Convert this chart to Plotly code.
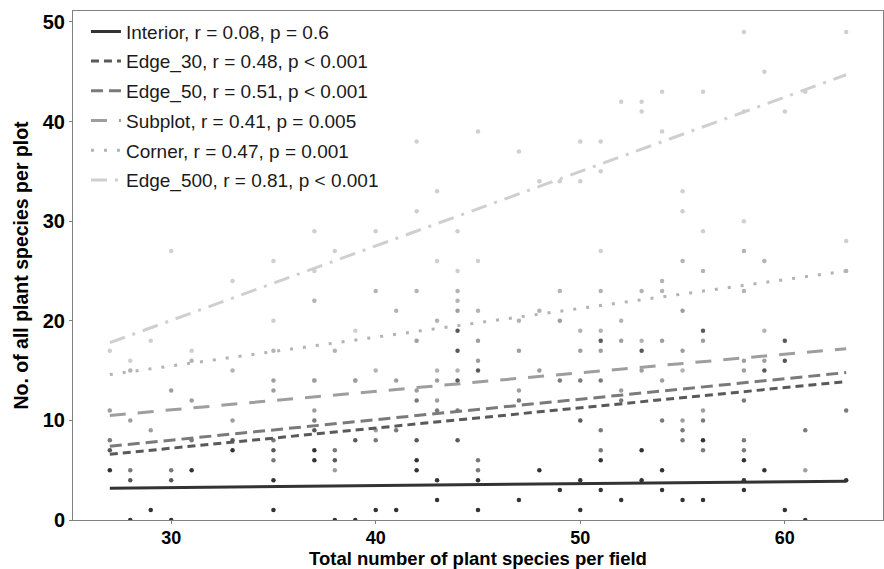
import plotly.graph_objects as go

# ---------------- data ----------------
interior_x = [27,28,29,30,31,33,35,35,37,37,38,39,40,41,42,42,43,43,45,45,47,48,49,50,50,51,51,52,53,53,54,54,55,56,56,58,58,58,59,60,61,63]
interior_y = [5,0,1,0,5,7,4,1,7,6,0,0,1,1,6,5,4,2,4,1,2,5,3,4,1,6,3,2,7,4,5,3,2,8,2,6,4,3,5,1,0,4]

edge30_x = [27,28,30,33,35,37,38,39,42,44,44,44,44,45,50,51,53,56,59,60,60]
edge30_y = [7,4,4,8,7,9,6,8,8,19,17,14,8,15,10,18,17,19,15,18,16]

edge50_x = [27,28,30,31,35,35,37,38,40,41,42,43,44,45,45,47,49,50,51,51,51,52,54,55,55,56,56,58,58,58,61,63]
edge50_y = [8,5,5,8,8,6,10,7,8,9,12,11,11,6,5,12,14,14,9,7,14,12,10,9,8,10,7,12,8,7,9,11]

subplot_x = [27,28,29,30,31,33,35,35,37,37,38,39,40,41,42,42,43,43,44,45,45,47,47,48,49,50,51,52,52,53,54,54,55,55,55,56,56,58,58,59,61]
subplot_y = [11,10,9,13,12,10,14,13,14,11,5,14,9,14,13,18,12,14,21,18,16,13,17,15,20,17,17,18,13,15,18,14,21,17,10,18,11,16,15,16,5]

corner_x = [28,31,33,35,37,37,38,39,40,40,41,42,43,43,44,44,44,45,47,48,49,50,51,51,52,53,53,54,54,55,55,56,58,58,59,59,63]
corner_y = [15,16,15,17,22,14,17,14,23,15,21,23,20,15,23,22,15,21,20,21,23,19,23,19,20,23,18,24,23,26,15,25,27,23,19,26,25]

edge500_x = [27,28,29,30,31,33,35,35,37,37,38,39,40,42,42,43,43,44,44,45,45,47,48,49,50,50,51,51,51,52,53,53,54,54,55,55,56,56,58,58,58,59,60,61,63,63]
edge500_y = [17,16,18,27,17,24,26,20,29,25,27,19,29,38,31,33,26,29,25,39,26,37,34,34,38,34,38,35,27,42,42,41,43,39,33,31,43,29,49,41,30,45,41,43,49,28]

# fitted regression lines (value at x = 27 and at x = 63)
fit_x = [27, 63]
interior_fit = [3.2, 3.9]
edge30_fit = [6.6, 13.9]
edge50_fit = [7.4, 14.8]
subplot_fit = [10.5, 17.2]
corner_fit = [14.6, 25.0]
edge500_fit = [17.8, 44.7]

labels = [
    "Interior, r = 0.08, p = 0.6",
    "Edge_30, r = 0.48, p < 0.001",
    "Edge_50, r = 0.51, p < 0.001",
    "Subplot, r = 0.41, p = 0.005",
    "Corner, r = 0.47, p = 0.001",
    "Edge_500, r = 0.81, p < 0.001",
]
x_ticks = [30, 40, 50, 60]
y_ticks = [0, 10, 20, 30, 40, 50]

# ---------------- styling ----------------
series = [
    (interior_x, interior_y, interior_fit, "#333333", "solid"),
    (edge30_x, edge30_y, edge30_fit, "#595959", "8px,5px"),
    (edge50_x, edge50_y, edge50_fit, "#7a7a7a", "12px,6px"),
    (subplot_x, subplot_y, subplot_fit, "#9e9e9e", "16px,12px"),
    (corner_x, corner_y, corner_fit, "#b3b3b3", "3px,10px"),
    (edge500_x, edge500_y, edge500_fit, "#cfcfcf", "16px,8px,3px,8px"),
]

fig = go.Figure()
for (xs, ys, fit, col, dash), lab in reversed(list(zip(series, labels))):
    fig.add_trace(go.Scatter(x=xs, y=ys, mode="markers",
                             marker=dict(color=col, size=4.5),
                             showlegend=False, hoverinfo="skip"))
for i, ((xs, ys, fit, col, dash), lab) in enumerate(zip(series, labels)):
    fig.add_trace(go.Scatter(x=fit_x, y=fit, mode="lines", name=lab,
                             line=dict(color=col, width=3, dash=dash),
                             legendgroup=f"g{i}"))

font_family = "Liberation Sans, Arial, sans-serif"
fig.update_layout(
    width=884, height=569,
    margin=dict(l=73, r=1, t=11, b=49, autoexpand=False),
    plot_bgcolor="white", paper_bgcolor="white",
    font=dict(family=font_family, color="#1a1a1a"),
    legend=dict(x=0.016, y=0.997, xanchor="left", yanchor="top",
                font=dict(size=19, color="#1a1a1a", family=font_family),
                bgcolor="rgba(0,0,0,0)", tracegroupgap=2, itemwidth=30,
                traceorder="grouped"),
    xaxis=dict(range=[25.2, 64.8], tickvals=x_ticks, showgrid=False, zeroline=False,
               showline=True, linecolor="#808080", linewidth=1, mirror=True,
               ticks="outside", ticklen=3, tickcolor="#808080",
               ticklabelstandoff=-2,
               tickfont=dict(size=18, color="black", family=font_family, weight="bold"),
               title=dict(text="Total number of plant species per field",
                          font=dict(size=18.5, color="black", family=font_family, weight="bold"),
                          standoff=5)),
    yaxis=dict(range=[0, 51.1], tickvals=y_ticks, showgrid=False, zeroline=False,
               showline=True, linecolor="#808080", linewidth=1, mirror=True,
               ticks="outside", ticklen=3, tickcolor="#808080",
               tickfont=dict(size=20, color="black", family=font_family, weight="bold"),
               title=dict(text="No. of all plant species per plot",
                          font=dict(size=19.5, color="black", family=font_family, weight="bold"),
                          standoff=8)),
)

fig.write_html("out.html")
